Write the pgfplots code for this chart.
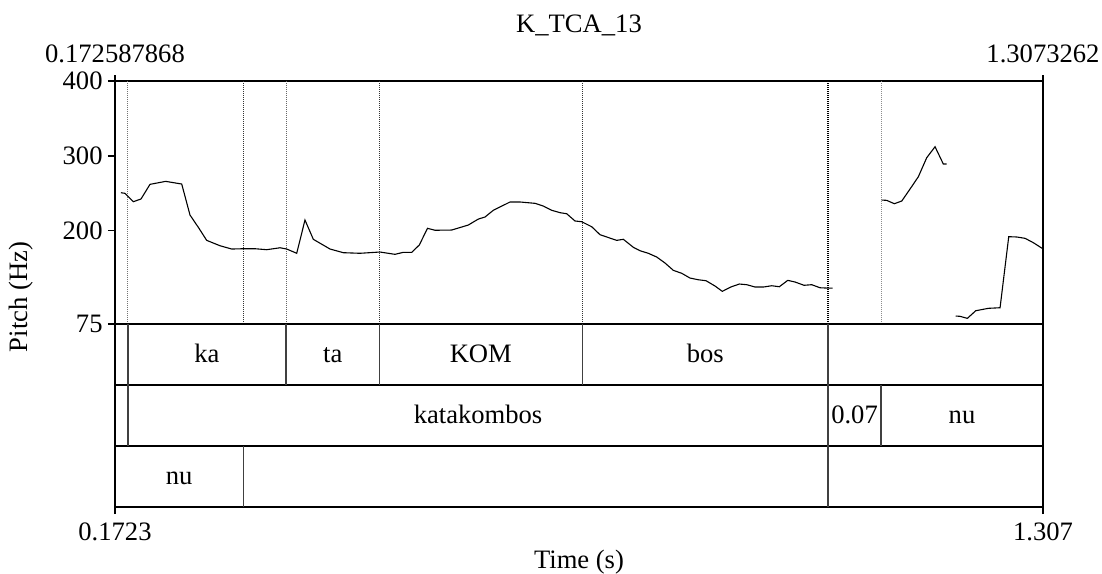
\documentclass[border=0pt]{standalone}
\usepackage{fontspec}
\setmainfont{Liberation Serif}
\usepackage{pgfplots}
\pgfplotsset{compat=1.18}
\newcommand\pf{\fontsize{13.3pt}{16pt}\selectfont}
\begin{document}
\begin{tikzpicture}[font=\pf,
  every node/.append style={inner sep=0pt},
  dotb/.style={line width=0.5pt, dash pattern=on 0.5pt off 0.5pt},
  tierb/.style={black!75, line width=0.6pt}]
\begin{axis}[
  scale only axis, width=464pt, height=213pt,
  xmin=0.1723, xmax=1.307, ymin=-169.7, ymax=400,
  clip=false,
  axis line style={line width=1pt},
  xtick={0.1723,1.307}, ytick={75,200,300,400},
  xticklabels={}, yticklabels={},
  xtick pos=bottom, ytick pos=left,
  tick align=outside, major tick length=3.5pt,
  every tick/.style={black, line width=0.75pt},
]
% page extent
\path (rel axis cs:-0.12392,-0.15493) rectangle (rel axis cs:1.06358,1.19014);

% boundary markers over the pitch area
\draw[dotb, black!55] (axis cs:0.1882,75) -- (axis cs:0.1882,400);
\draw[dotb, black!80] (axis cs:0.3292,75) -- (axis cs:0.3292,400);
\draw[dotb, black!60] (axis cs:0.3814,75) -- (axis cs:0.3814,400);
\draw[dotb, black!80] (axis cs:0.4955,75) -- (axis cs:0.4955,400);
\draw[dotb, black!80] (axis cs:0.7437,75) -- (axis cs:0.7437,400);
\draw[dotb, black, line width=1pt] (axis cs:1.0442,75) -- (axis cs:1.0442,400);
\draw[dotb, black!45] (axis cs:1.1090,75) -- (axis cs:1.1090,400);

% tier grid
\draw[line width=0.6pt] (axis cs:0.1723,75) -- (axis cs:1.307,75);
\draw[line width=0.75pt] (axis cs:0.1723,-6.57) -- (axis cs:1.307,-6.57);
\draw[line width=0.75pt] (axis cs:0.1723,-88.14) -- (axis cs:1.307,-88.14);
% syllables
\draw[tierb] (axis cs:0.1882,75) -- (axis cs:0.1882,-6.57);
\draw[tierb] (axis cs:0.3814,75) -- (axis cs:0.3814,-6.57);
\draw[tierb] (axis cs:0.4955,75) -- (axis cs:0.4955,-6.57);
\draw[tierb] (axis cs:0.7437,75) -- (axis cs:0.7437,-6.57);
\draw[tierb] (axis cs:1.0442,75) -- (axis cs:1.0442,-6.57);
% words
\draw[tierb] (axis cs:0.1882,-6.57) -- (axis cs:0.1882,-88.14);
\draw[tierb] (axis cs:1.0442,-6.57) -- (axis cs:1.0442,-88.14);
\draw[tierb] (axis cs:1.1090,-6.57) -- (axis cs:1.1090,-88.14);
% notes
\draw[tierb] (axis cs:0.3292,-88.14) -- (axis cs:0.3292,-169.7);
\draw[tierb] (axis cs:1.0442,-88.14) -- (axis cs:1.0442,-169.7);

% pitch contour
\addplot[black, line width=0.55pt, no marks] coordinates {
(0.1796,250.6)(0.1845,249.8)(0.1947,238.6)(0.2041,242.2)(0.2151,261.8)(0.2343,265.8)
(0.2539,262.2)(0.2640,220.8)(0.2750,203.0)(0.2844,186.9)(0.3007,179.7)(0.3150,175.3)
(0.3292,175.7)(0.3435,175.7)(0.3578,174.4)(0.3741,177.0)(0.3823,175.3)(0.3945,169.6)
(0.4046,214.1)(0.4148,188.3)(0.4352,175.3)(0.4515,170.4)(0.4719,169.6)(0.4963,171.3)
(0.5147,168.2)(0.5248,170.9)(0.5351,170.9)(0.5444,180.7)(0.5544,203.0)(0.5636,200.4)
(0.5840,200.7)(0.6043,207.4)(0.6166,215.4)(0.6247,218.1)(0.6349,227.1)(0.6553,238.2)
(0.6675,238.2)(0.6859,236.4)(0.6960,232.8)(0.7063,227.1)(0.7165,223.9)(0.7246,222.5)
(0.7348,212.8)(0.7430,211.8)(0.7552,205.1)(0.7654,194.4)(0.7858,186.9)(0.7939,188.3)
(0.8061,177.6)(0.8143,173.0)(0.8244,169.6)(0.8347,164.6)(0.8448,156.6)(0.8550,146.8)
(0.8653,142.8)(0.8754,136.5)(0.8856,134.2)(0.8950,132.9)(0.9060,125.8)(0.9149,118.7)
(0.9252,124.5)(0.9357,128.5)(0.9448,127.6)(0.9549,124.5)(0.9651,124.5)(0.9753,126.2)
(0.9846,124.9)(0.9949,133.4)(1.0038,131.2)(1.0148,126.8)(1.0242,127.6)(1.0344,123.5)
(1.0426,123.1)(1.0499,123.1)
};
\addplot[black, line width=0.55pt, no marks] coordinates {
(1.1098,240.8)(1.1159,240.4)(1.1252,235.9)(1.1343,239.5)(1.1444,255.5)(1.1546,272.0)
(1.1648,297.4)(1.1750,312.1)(1.1851,289.0)(1.1893,289.0)
};
\addplot[black, line width=0.55pt, no marks] coordinates {
(1.2003,85.7)(1.2056,85.3)(1.2145,82.6)(1.2248,92.8)(1.2402,96.0)(1.2545,96.8)
(1.2651,191.8)(1.2749,191.4)(1.2851,189.6)(1.2953,183.7)(1.307,175.5)
};

% tier labels
\node[anchor=base] at (axis cs:0.2848,23.5) {ka};
\node[anchor=base] at (axis cs:0.4385,23.5) {ta};
\node[anchor=base] at (axis cs:0.6196,23.5) {KOM};
\node[anchor=base] at (axis cs:0.8940,23.5) {bos};
\node[anchor=base] at (axis cs:0.6162,-58.1) {katakombos};
\node[anchor=base] at (axis cs:1.0766,-58.1) {0.07};
\node[anchor=base] at (axis cs:1.2080,-58.1) {nu};
\node[anchor=base] at (axis cs:0.2508,-139.7) {nu};

% top time marks
\draw[line width=0.75pt] (axis cs:0.1723,400) -- ([yshift=3pt]axis cs:0.1723,400);
\draw[line width=0.75pt] (axis cs:1.307,400) -- ([yshift=3pt]axis cs:1.307,400);
\node[anchor=base] at (rel axis cs:0,1.0423) {0.172587868};
\node[anchor=base] at (rel axis cs:1,1.0423) {1.3073262};

% pitch tick labels
\node[anchor=east, xshift=-6pt] at (axis cs:0.1723,75) {75};
\node[anchor=east, xshift=-6pt] at (axis cs:0.1723,200) {200};
\node[anchor=east, xshift=-6pt] at (axis cs:0.1723,300) {300};
\node[anchor=east, xshift=-6pt] at (axis cs:0.1723,400) {400};
% bottom time labels
\node[anchor=base] at (rel axis cs:0,-0.0775) {0.1723};
\node[anchor=base] at (rel axis cs:1,-0.0775) {1.307};

% titles
\node[anchor=base] at (rel axis cs:0.5,1.1127) {K\_TCA\_13};
\node[anchor=base] at (rel axis cs:0.5,-0.1432) {Time (s)};
\node[anchor=base, rotate=90] at (rel axis cs:-0.0948,0.493) {Pitch (Hz)};
\end{axis}
\end{tikzpicture}
\end{document}
